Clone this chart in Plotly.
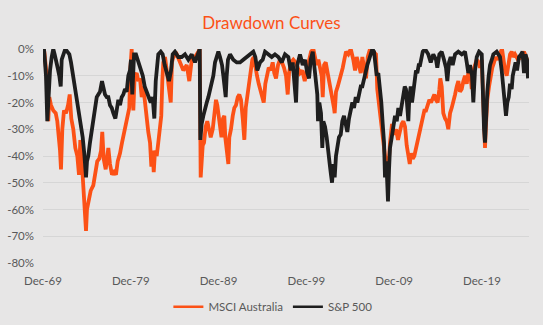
import plotly.graph_objects as go
from datetime import datetime

# ---- data (decimal years, drawdown in %) ----
aus_years = [
    1969.92, 1970.07, 1970.34, 1970.52, 1970.64, 1970.83, 1971.09, 1971.37, 1971.55, 1971.74,
    1971.86, 1971.97, 1972.12, 1972.31, 1972.54, 1972.77, 1972.96, 1973.14, 1973.37, 1973.60,
    1973.83, 1974.02, 1974.17, 1974.36, 1974.56, 1974.70, 1974.82, 1974.93, 1975.13, 1975.35,
    1975.65, 1975.88, 1976.10, 1976.33, 1976.53, 1976.67, 1976.83, 1977.06, 1977.24, 1977.36,
    1977.55, 1977.78, 1978.01, 1978.23, 1978.43, 1978.69, 1978.92, 1979.15, 1979.37, 1979.60,
    1979.75, 1979.86, 1980.02, 1980.21, 1980.36, 1980.59, 1980.78, 1980.97, 1981.16, 1981.34,
    1981.54, 1981.73, 1981.91, 1982.11, 1982.26, 1982.41, 1982.53, 1982.68, 1982.87, 1983.05,
    1983.25, 1983.39, 1983.51, 1983.62, 1983.82, 1984.01, 1984.19, 1984.47, 1984.61, 1984.76,
    1985.15, 1985.52, 1985.90, 1986.29, 1986.58, 1986.86, 1987.23, 1987.61, 1987.77, 1987.88,
    1987.99, 1988.11, 1988.26, 1988.45, 1988.63, 1988.83, 1989.02, 1989.25, 1989.43, 1989.62,
    1989.77, 1989.97, 1990.16, 1990.25, 1990.42, 1990.57, 1990.68, 1990.84, 1991.03, 1991.14,
    1991.33, 1991.53, 1991.71, 1991.90, 1992.10, 1992.28, 1992.47, 1992.67, 1992.85, 1993.01,
    1993.19, 1993.38, 1993.58, 1993.76, 1993.92, 1994.10, 1994.29, 1994.49, 1994.67, 1994.86,
    1995.06, 1995.24, 1995.43, 1995.63, 1995.85, 1996.08, 1996.26, 1996.46, 1996.69, 1996.91,
    1997.14, 1997.37, 1997.60, 1997.79, 1997.94, 1998.17, 1998.43, 1998.70, 1998.93, 1999.19,
    1999.45, 1999.73, 1999.96, 2000.22, 2000.45, 2000.71, 2000.90, 2001.09, 2001.28, 2001.47,
    2001.66, 2001.78, 2001.93, 2002.12, 2002.30, 2002.50, 2002.69, 2002.87, 2003.06, 2003.14,
    2003.29, 2003.49, 2003.67, 2003.86, 2004.06, 2004.24, 2004.43, 2004.69, 2004.97, 2005.26,
    2005.46, 2005.65, 2005.91, 2006.11, 2006.29, 2006.52, 2006.71, 2006.90, 2007.16, 2007.54,
    2007.85, 2007.99, 2008.16, 2008.30, 2008.45, 2008.64, 2008.87, 2009.10, 2009.27, 2009.44,
    2009.67, 2009.90, 2010.13, 2010.35, 2010.58, 2010.77, 2010.96, 2011.15, 2011.34, 2011.53,
    2011.69, 2011.83, 2012.03, 2012.21, 2012.40, 2012.60, 2012.78, 2012.97, 2013.17, 2013.35,
    2013.54, 2013.74, 2013.92, 2014.11, 2014.31, 2014.49, 2014.68, 2014.87, 2015.06, 2015.17,
    2015.33, 2015.51, 2015.71, 2015.90, 2016.08, 2016.28, 2016.47, 2016.65, 2016.85, 2017.04,
    2017.22, 2017.41, 2017.61, 2017.79, 2017.98, 2018.18, 2018.36, 2018.55, 2018.75, 2018.93,
    2019.12, 2019.32, 2019.50, 2019.69, 2019.89, 2020.00, 2020.15, 2020.26, 2020.38, 2020.52,
    2020.72, 2020.91, 2021.09, 2021.29, 2021.48, 2021.66, 2021.86, 2022.05, 2022.20, 2022.35,
    2022.54, 2022.73, 2022.92, 2023.11, 2023.30, 2023.49, 2023.68, 2024.02, 2024.36, 2024.70,
    2024.93, 2025.16,
]
aus_dd = [
    0, -1, -10, -27, -18, -21, -23, -24, -27, -33,
    -38, -45, -30, -23, -24, -21, -17, -26, -30, -37,
    -40, -47, -34, -43, -55, -62, -68, -60, -56, -53,
    -51, -46, -42, -41, -38, -31, -41, -45, -41, -37,
    -43, -47, -46, -47, -42, -39, -35, -31, -28, -25,
    -22, -8, 0, -23, -10, -9, -12, -11, -18, -14,
    -20, -27, -31, -35, -44, -38, -46, -38, -40, -35,
    -30, -25, -12, -5, -3, -8, -13, -20, -5, -3,
    -2, -5, -8, -6, -12, -4, -3, -1, 0, -48,
    -40, -36, -35, -29, -27, -30, -33, -30, -24, -19,
    -21, -26, -30, -33, -26, -25, -33, -38, -43, -33,
    -30, -25, -22, -21, -18, -17, -19, -26, -34, -22,
    -18, -14, -10, -4, -3, -7, -10, -13, -15, -17,
    -20, -13, -10, -7, -8, -5, -9, -11, -6, -4,
    -5, -7, -10, -17, -9, -5, -4, -5, -7, -9,
    -8, -12, -8, -4, -1, 0, -3, -6, -4, -8,
    -10, -18, -6, -5, -8, -12, -16, -19, -22, -24,
    -16, -14, -12, -10, -7, -4, -1, -2, 0, -4,
    -8, -3, -6, -9, -3, -7, -11, -3, 0, -1,
    -2, -15, -20, -26, -30, -33, -40, -42, -44, -35,
    -28, -32, -30, -34, -31, -28, -27, -29, -36, -40,
    -43, -39, -41, -40, -37, -34, -32, -28, -25, -23,
    -23, -21, -19, -20, -18, -17, -19, -20, -15, -11,
    -14, -24, -26, -27, -30, -24, -22, -20, -17, -14,
    -12, -16, -15, -12, -10, -13, -9, -8, -15, -8,
    -6, -4, -5, -7, -4, -15, -34, -37, -28, -19,
    -14, -10, -7, -5, -3, -4, -2, -1, 0, -4,
    -8, -10, -6, -2, -1, -3, -2, -4, -3, -1,
    -3, -5,
]

spx_years = [
    1969.92, 1970.03, 1970.15, 1970.26, 1970.41, 1970.57, 1970.72, 1970.91, 1971.09, 1971.25,
    1971.40, 1971.59, 1971.78, 1971.94, 1972.05, 1972.23, 1972.46, 1972.69, 1972.92, 1973.11,
    1973.30, 1973.49, 1973.68, 1973.87, 1974.05, 1974.25, 1974.44, 1974.62, 1974.74, 1974.82,
    1974.93, 1975.08, 1975.27, 1975.47, 1975.65, 1975.84, 1976.04, 1976.22, 1976.41, 1976.64,
    1976.79, 1976.98, 1977.18, 1977.36, 1977.55, 1977.75, 1977.93, 1978.16, 1978.31, 1978.50,
    1978.69, 1978.88, 1979.07, 1979.26, 1979.45, 1979.64, 1979.83, 1979.94, 1980.09, 1980.23,
    1980.29, 1980.51, 1980.78, 1981.05, 1981.28, 1981.50, 1981.73, 1981.96, 1982.19, 1982.41,
    1982.60, 1982.76, 1982.87, 1983.05, 1983.33, 1983.55, 1983.78, 1984.01, 1984.27, 1984.50,
    1984.69, 1984.95, 1985.33, 1985.72, 1986.09, 1986.47, 1986.86, 1987.23, 1987.61, 1987.77,
    1987.84, 1987.99, 1988.18, 1988.37, 1988.57, 1988.75, 1988.94, 1989.13, 1989.32, 1989.51,
    1989.70, 1989.89, 1990.08, 1990.31, 1990.46, 1990.62, 1990.73, 1990.84, 1990.99, 1991.22,
    1991.59, 1991.98, 1992.36, 1992.73, 1993.12, 1993.50, 1993.87, 1994.10, 1994.33, 1994.64,
    1994.94, 1995.21, 1995.58, 1995.97, 1996.34, 1996.72, 1997.11, 1997.48, 1997.86, 1998.13,
    1998.36, 1998.59, 1998.74, 1998.88, 1999.19, 1999.50, 1999.76, 2000.02, 2000.22, 2000.41,
    2000.64, 2000.87, 2001.01, 2001.16, 2001.24, 2001.39, 2001.58, 2001.73, 2001.85, 2002.04,
    2002.23, 2002.41, 2002.61, 2002.72, 2002.84, 2002.98, 2003.14, 2003.29, 2003.44, 2003.63,
    2003.83, 2004.01, 2004.20, 2004.40, 2004.58, 2004.77, 2004.97, 2005.15, 2005.34, 2005.54,
    2005.72, 2005.91, 2006.11, 2006.29, 2006.48, 2006.67, 2006.86, 2007.05, 2007.24, 2007.43,
    2007.62, 2007.73, 2007.93, 2008.11, 2008.30, 2008.45, 2008.61, 2008.76, 2008.87, 2008.99,
    2009.10, 2009.21, 2009.33, 2009.44, 2009.64, 2009.82, 2010.01, 2010.21, 2010.39, 2010.58,
    2010.77, 2010.96, 2011.12, 2011.26, 2011.41, 2011.53, 2011.64, 2011.80, 2011.95, 2012.10,
    2012.26, 2012.40, 2012.55, 2012.71, 2012.86, 2013.01, 2013.17, 2013.43, 2013.80, 2014.08,
    2014.37, 2014.68, 2014.83, 2015.06, 2015.33, 2015.59, 2015.82, 2015.97, 2016.16, 2016.35,
    2016.58, 2016.85, 2017.22, 2017.61, 2017.98, 2018.18, 2018.36, 2018.55, 2018.78, 2018.93,
    2019.12, 2019.32, 2019.58, 2019.89, 2020.03, 2020.15, 2020.26, 2020.38, 2020.52, 2020.68,
    2020.83, 2021.03, 2021.21, 2021.59, 2021.97, 2022.16, 2022.35, 2022.51, 2022.65, 2022.80,
    2022.96, 2023.11, 2023.30, 2023.42, 2023.56, 2023.74, 2023.91, 2024.13, 2024.36, 2024.53,
    2024.70, 2024.87, 2025.05, 2025.16,
]
spx_dd = [
    0, 0, -5, -10, -27, -17, -8, -3, 0, -2,
    -5, -7, -10, -14, -4, -2, 0, -1, -2, -5,
    -9, -12, -16, -20, -25, -28, -33, -39, -44, -48,
    -42, -40, -35, -31, -28, -24, -18, -17, -16, -12,
    -15, -17, -18, -18, -21, -22, -24, -26, -23, -19,
    -21, -18, -17, -15, -16, -10, -8, -4, -17, -3,
    -2, -2, -5, -7, -10, -14, -16, -19, -20, -18,
    -26, -12, -6, -2, -1, -2, -6, -9, -12, -8,
    -2, -1, -3, -3, -2, -4, -2, -5, -2, 0,
    -34, -28, -25, -22, -20, -18, -15, -12, -10, -5,
    -3, -1, -3, -6, -10, -15, -18, -10, -4, -2,
    -4, -5, -5, -4, -3, -2, -1, -3, -8, -5,
    -4, -1, -2, -3, -2, -3, -5, -2, -3, -8,
    -5, -14, -20, -6, -2, -6, -4, -9, -11, -4,
    -1, -8, -13, -17, -27, -20, -24, -37, -27, -29,
    -33, -40, -44, -47, -50, -43, -48, -40, -36, -33,
    -32, -27, -25, -28, -31, -26, -22, -20, -22, -18,
    -20, -16, -14, -14, -11, -8, -6, -4, -2, 0,
    -1, -5, -10, -9, -14, -20, -28, -35, -48, -42,
    -48, -57, -45, -37, -33, -29, -25, -27, -22, -25,
    -21, -17, -14, -15, -20, -27, -18, -14, -20, -15,
    -10, -8, -9, -6, -6, -4, -1, 0, -2, -5,
    -2, -4, -7, -2, -1, -4, -7, -12, -5, -3,
    -6, -2, -1, -2, -1, -5, -9, -6, -10, -20,
    -8, -3, -1, -2, -20, -30, -35, -24, -16, -10,
    -6, -4, -2, -1, -3, -8, -14, -18, -25, -20,
    -18, -13, -15, -10, -7, -5, -8, -3, -2, -1,
    -9, -2, -4, -11,
]

series_names = ["MSCI Australia", "S&P 500"]
x_tick_dates = ["1969-12-01", "1979-12-01", "1989-12-01", "1999-12-01", "2009-12-01", "2019-12-01"]
x_tick_labels = ["Dec-69", "Dec-79", "Dec-89", "Dec-99", "Dec-09", "Dec-19"]
y_tick_values = [0, -10, -20, -30, -40, -50, -60, -70, -80]
y_tick_labels = ["0%", "-10%", "-20%", "-30%", "-40%", "-50%", "-60%", "-70%", "-80%"]

ORANGE = "#fc5116"
BLACK = "#1e1e1e"
BG = "#e7e6e6"
TXT = "#595959"
FONT = "Lato"


def to_date(y):
    yr = int(y)
    frac = y - yr
    a = datetime(yr, 1, 1)
    b = datetime(yr + 1, 1, 1)
    return a + (b - a) * frac


fig = go.Figure()
fig.add_trace(go.Scatter(x=[to_date(v) for v in aus_years], y=aus_dd, mode="lines",
                         name=series_names[0], showlegend=False, legendgroup="a",
                         line=dict(color=ORANGE, width=3.8)))
fig.add_trace(go.Scatter(x=[to_date(v) for v in spx_years], y=spx_dd, mode="lines",
                         name=series_names[1], showlegend=False, legendgroup="b",
                         line=dict(color=BLACK, width=3.8)))
# legend entries with a thinner line sample (as in the reference)
fig.add_trace(go.Scatter(x=[None], y=[None], mode="lines", name=series_names[0], legendgroup="a",
                         line=dict(color=ORANGE, width=2.5)))
fig.add_trace(go.Scatter(x=[None], y=[None], mode="lines", name=series_names[1], legendgroup="b",
                         line=dict(color=BLACK, width=2.5)))

fig.update_layout(
    width=543, height=325,
    margin=dict(l=43, r=14, t=49, b=62, autoexpand=False),
    paper_bgcolor=BG, plot_bgcolor=BG,
    title=dict(text="Drawdown Curves", x=0.5, xanchor="center", y=1 - 23 / 325, yanchor="middle",
               font=dict(family=FONT, size=17, color=ORANGE)),
    legend=dict(orientation="h", x=0.473, xanchor="center", y=-0.204, yanchor="middle",
                font=dict(family=FONT, size=11.5, color=TXT), bgcolor="rgba(0,0,0,0)"),
    font=dict(family=FONT, size=12, color=TXT),
)
fig.update_xaxes(type="date", range=[to_date(1969.92), to_date(2025.27)],
                 tickmode="array", tickvals=x_tick_dates, ticktext=x_tick_labels,
                 showgrid=False, zeroline=False, showline=False, ticks="",
                 ticklabelstandoff=9,
                 tickfont=dict(family=FONT, size=11.5, color=TXT))
fig.update_yaxes(range=[-80, 0], tickmode="array", tickvals=y_tick_values, ticktext=y_tick_labels,
                 showgrid=True, gridcolor="#d6d6d6", gridwidth=1, zeroline=False, showline=False,
                 ticks="", ticklabelstandoff=8,
                 tickfont=dict(family=FONT, size=11.5, color=TXT))

fig.write_html("out.html")
